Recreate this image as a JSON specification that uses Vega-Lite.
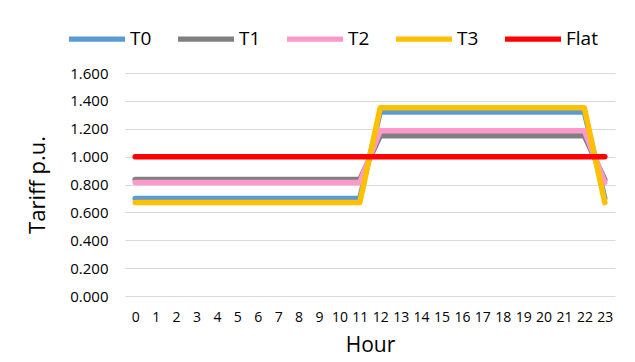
{
  "$schema": "https://vega.github.io/schema/vega-lite/v6.json",
  "autosize": "none",
  "width": 490,
  "height": 223,
  "padding": {"left": 125, "top": 73, "right": 20, "bottom": 66},
  "background": "white",
  "config": {
    "view": {"stroke": null},
    "font": "Open Sans",
    "axis": {"labelFont": "Open Sans", "titleFont": "Open Sans", "labelColor": "#000000", "titleColor": "#000000", "titleFontWeight": "normal"},
    "legend": {"labelFont": "Open Sans", "labelColor": "#000000"}
  },
  "data": {
    "values": [
      {"Hour": 0, "Series": "T0", "Tariff": 0.70}, {"Hour": 1, "Series": "T0", "Tariff": 0.70}, {"Hour": 2, "Series": "T0", "Tariff": 0.70}, {"Hour": 3, "Series": "T0", "Tariff": 0.70},
      {"Hour": 4, "Series": "T0", "Tariff": 0.70}, {"Hour": 5, "Series": "T0", "Tariff": 0.70}, {"Hour": 6, "Series": "T0", "Tariff": 0.70}, {"Hour": 7, "Series": "T0", "Tariff": 0.70},
      {"Hour": 8, "Series": "T0", "Tariff": 0.70}, {"Hour": 9, "Series": "T0", "Tariff": 0.70}, {"Hour": 10, "Series": "T0", "Tariff": 0.70}, {"Hour": 11, "Series": "T0", "Tariff": 0.70},
      {"Hour": 12, "Series": "T0", "Tariff": 1.32}, {"Hour": 13, "Series": "T0", "Tariff": 1.32}, {"Hour": 14, "Series": "T0", "Tariff": 1.32}, {"Hour": 15, "Series": "T0", "Tariff": 1.32},
      {"Hour": 16, "Series": "T0", "Tariff": 1.32}, {"Hour": 17, "Series": "T0", "Tariff": 1.32}, {"Hour": 18, "Series": "T0", "Tariff": 1.32}, {"Hour": 19, "Series": "T0", "Tariff": 1.32},
      {"Hour": 20, "Series": "T0", "Tariff": 1.32}, {"Hour": 21, "Series": "T0", "Tariff": 1.32}, {"Hour": 22, "Series": "T0", "Tariff": 1.32}, {"Hour": 23, "Series": "T0", "Tariff": 0.70},

      {"Hour": 0, "Series": "T1", "Tariff": 0.835}, {"Hour": 1, "Series": "T1", "Tariff": 0.835}, {"Hour": 2, "Series": "T1", "Tariff": 0.835}, {"Hour": 3, "Series": "T1", "Tariff": 0.835},
      {"Hour": 4, "Series": "T1", "Tariff": 0.835}, {"Hour": 5, "Series": "T1", "Tariff": 0.835}, {"Hour": 6, "Series": "T1", "Tariff": 0.835}, {"Hour": 7, "Series": "T1", "Tariff": 0.835},
      {"Hour": 8, "Series": "T1", "Tariff": 0.835}, {"Hour": 9, "Series": "T1", "Tariff": 0.835}, {"Hour": 10, "Series": "T1", "Tariff": 0.835}, {"Hour": 11, "Series": "T1", "Tariff": 0.835},
      {"Hour": 12, "Series": "T1", "Tariff": 1.15}, {"Hour": 13, "Series": "T1", "Tariff": 1.15}, {"Hour": 14, "Series": "T1", "Tariff": 1.15}, {"Hour": 15, "Series": "T1", "Tariff": 1.15},
      {"Hour": 16, "Series": "T1", "Tariff": 1.15}, {"Hour": 17, "Series": "T1", "Tariff": 1.15}, {"Hour": 18, "Series": "T1", "Tariff": 1.15}, {"Hour": 19, "Series": "T1", "Tariff": 1.15},
      {"Hour": 20, "Series": "T1", "Tariff": 1.15}, {"Hour": 21, "Series": "T1", "Tariff": 1.15}, {"Hour": 22, "Series": "T1", "Tariff": 1.15}, {"Hour": 23, "Series": "T1", "Tariff": 0.835},

      {"Hour": 0, "Series": "T2", "Tariff": 0.815}, {"Hour": 1, "Series": "T2", "Tariff": 0.815}, {"Hour": 2, "Series": "T2", "Tariff": 0.815}, {"Hour": 3, "Series": "T2", "Tariff": 0.815},
      {"Hour": 4, "Series": "T2", "Tariff": 0.815}, {"Hour": 5, "Series": "T2", "Tariff": 0.815}, {"Hour": 6, "Series": "T2", "Tariff": 0.815}, {"Hour": 7, "Series": "T2", "Tariff": 0.815},
      {"Hour": 8, "Series": "T2", "Tariff": 0.815}, {"Hour": 9, "Series": "T2", "Tariff": 0.815}, {"Hour": 10, "Series": "T2", "Tariff": 0.815}, {"Hour": 11, "Series": "T2", "Tariff": 0.815},
      {"Hour": 12, "Series": "T2", "Tariff": 1.185}, {"Hour": 13, "Series": "T2", "Tariff": 1.185}, {"Hour": 14, "Series": "T2", "Tariff": 1.185}, {"Hour": 15, "Series": "T2", "Tariff": 1.185},
      {"Hour": 16, "Series": "T2", "Tariff": 1.185}, {"Hour": 17, "Series": "T2", "Tariff": 1.185}, {"Hour": 18, "Series": "T2", "Tariff": 1.185}, {"Hour": 19, "Series": "T2", "Tariff": 1.185},
      {"Hour": 20, "Series": "T2", "Tariff": 1.185}, {"Hour": 21, "Series": "T2", "Tariff": 1.185}, {"Hour": 22, "Series": "T2", "Tariff": 1.185}, {"Hour": 23, "Series": "T2", "Tariff": 0.815},

      {"Hour": 0, "Series": "T3", "Tariff": 0.67}, {"Hour": 1, "Series": "T3", "Tariff": 0.67}, {"Hour": 2, "Series": "T3", "Tariff": 0.67}, {"Hour": 3, "Series": "T3", "Tariff": 0.67},
      {"Hour": 4, "Series": "T3", "Tariff": 0.67}, {"Hour": 5, "Series": "T3", "Tariff": 0.67}, {"Hour": 6, "Series": "T3", "Tariff": 0.67}, {"Hour": 7, "Series": "T3", "Tariff": 0.67},
      {"Hour": 8, "Series": "T3", "Tariff": 0.67}, {"Hour": 9, "Series": "T3", "Tariff": 0.67}, {"Hour": 10, "Series": "T3", "Tariff": 0.67}, {"Hour": 11, "Series": "T3", "Tariff": 0.67},
      {"Hour": 12, "Series": "T3", "Tariff": 1.35}, {"Hour": 13, "Series": "T3", "Tariff": 1.35}, {"Hour": 14, "Series": "T3", "Tariff": 1.35}, {"Hour": 15, "Series": "T3", "Tariff": 1.35},
      {"Hour": 16, "Series": "T3", "Tariff": 1.35}, {"Hour": 17, "Series": "T3", "Tariff": 1.35}, {"Hour": 18, "Series": "T3", "Tariff": 1.35}, {"Hour": 19, "Series": "T3", "Tariff": 1.35},
      {"Hour": 20, "Series": "T3", "Tariff": 1.35}, {"Hour": 21, "Series": "T3", "Tariff": 1.35}, {"Hour": 22, "Series": "T3", "Tariff": 1.35}, {"Hour": 23, "Series": "T3", "Tariff": 0.67},

      {"Hour": 0, "Series": "Flat", "Tariff": 1.0}, {"Hour": 1, "Series": "Flat", "Tariff": 1.0}, {"Hour": 2, "Series": "Flat", "Tariff": 1.0}, {"Hour": 3, "Series": "Flat", "Tariff": 1.0},
      {"Hour": 4, "Series": "Flat", "Tariff": 1.0}, {"Hour": 5, "Series": "Flat", "Tariff": 1.0}, {"Hour": 6, "Series": "Flat", "Tariff": 1.0}, {"Hour": 7, "Series": "Flat", "Tariff": 1.0},
      {"Hour": 8, "Series": "Flat", "Tariff": 1.0}, {"Hour": 9, "Series": "Flat", "Tariff": 1.0}, {"Hour": 10, "Series": "Flat", "Tariff": 1.0}, {"Hour": 11, "Series": "Flat", "Tariff": 1.0},
      {"Hour": 12, "Series": "Flat", "Tariff": 1.0}, {"Hour": 13, "Series": "Flat", "Tariff": 1.0}, {"Hour": 14, "Series": "Flat", "Tariff": 1.0}, {"Hour": 15, "Series": "Flat", "Tariff": 1.0},
      {"Hour": 16, "Series": "Flat", "Tariff": 1.0}, {"Hour": 17, "Series": "Flat", "Tariff": 1.0}, {"Hour": 18, "Series": "Flat", "Tariff": 1.0}, {"Hour": 19, "Series": "Flat", "Tariff": 1.0},
      {"Hour": 20, "Series": "Flat", "Tariff": 1.0}, {"Hour": 21, "Series": "Flat", "Tariff": 1.0}, {"Hour": 22, "Series": "Flat", "Tariff": 1.0}, {"Hour": 23, "Series": "Flat", "Tariff": 1.0}
    ]
  },
  "mark": {"type": "line", "strokeWidth": 5.5, "strokeCap": "round", "strokeJoin": "round"},
  "encoding": {
    "x": {
      "field": "Hour",
      "type": "ordinal",
      "scale": {"padding": 0.5},
      "axis": {
        "title": "Hour",
        "titleFontSize": 21,
        "titlePadding": 10,
        "labelAngle": 0,
        "labelFontSize": 14,
        "labelPadding": 14,
        "ticks": false,
        "domain": false,
        "grid": false
      }
    },
    "y": {
      "field": "Tariff",
      "type": "quantitative",
      "scale": {"domain": [0, 1.6], "nice": false},
      "axis": {
        "title": "Tariff p.u.",
        "titleFontSize": 22,
        "titlePadding": 20,
        "values": [0, 0.2, 0.4, 0.6, 0.8, 1.0, 1.2, 1.4, 1.6],
        "format": ".3f",
        "labelFontSize": 15,
        "labelPadding": 17,
        "ticks": false,
        "domain": false,
        "gridColor": "#d9d9d9",
        "gridWidth": 1
      }
    },
    "color": {
      "field": "Series",
      "type": "nominal",
      "scale": {
        "domain": ["T0", "T1", "T2", "T3", "Flat"],
        "range": ["#5b9bd5", "#808080", "#ff99cc", "#ffc000", "#ff0000"]
      },
      "legend": {
        "title": null,
        "orient": "none",
        "direction": "horizontal",
        "legendX": -59,
        "legendY": -65,
        "symbolType": "stroke",
        "symbolSize": 3136,
        "symbolStrokeWidth": 5.3,
        "labelFontSize": 19,
        "labelOffset": 2,
        "columnPadding": 15
      }
    }
  }
}
